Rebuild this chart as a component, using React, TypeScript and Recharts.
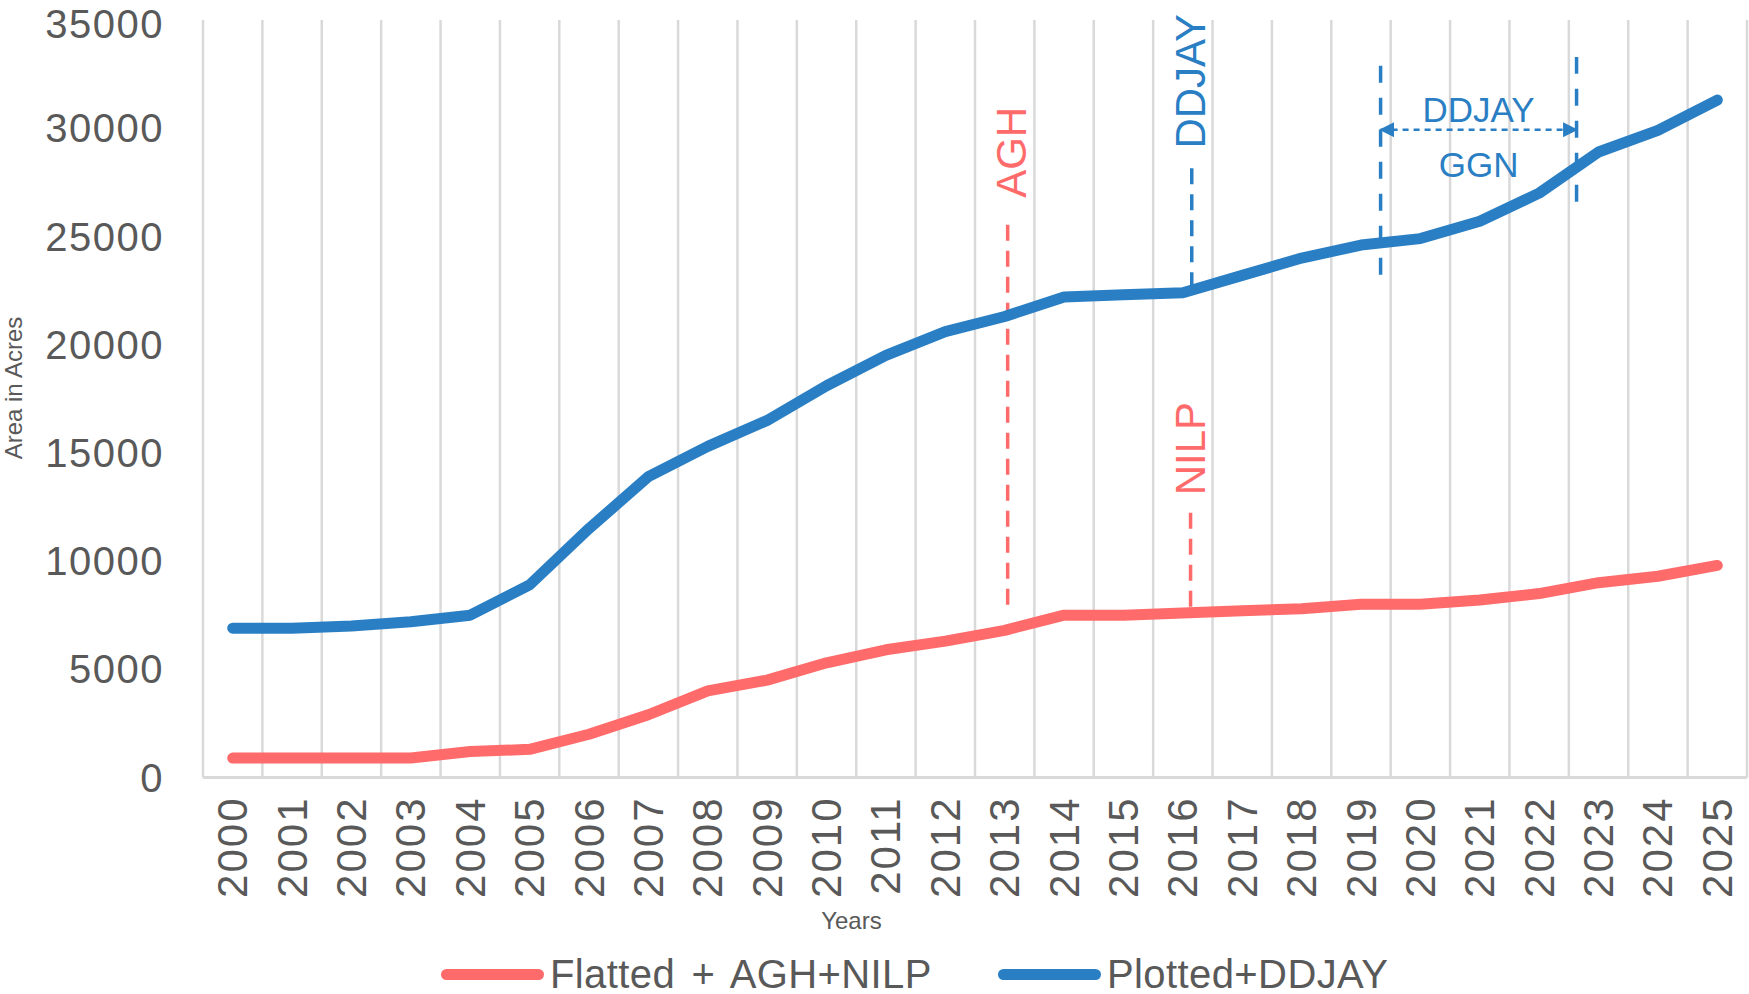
import React from 'react';
import { LineChart, Line, XAxis, YAxis, ReferenceLine, ReferenceDot, Legend } from 'recharts';

const years = [
  2000, 2001, 2002, 2003, 2004, 2005, 2006, 2007, 2008, 2009, 2010, 2011, 2012,
  2013, 2014, 2015, 2016, 2017, 2018, 2019, 2020, 2021, 2022, 2023, 2024, 2025,
];
const flatted = [
  900, 900, 900, 900, 1200, 1300, 2000, 2900, 4000, 4500, 5300, 5900, 6300,
  6800, 7500, 7500, 7600, 7700, 7800, 8000, 8000, 8200, 8500, 9000, 9300, 9800,
];
const plotted = [
  6900, 6900, 7000, 7200, 7500, 8900, 11500, 13900, 15300, 16500, 18100, 19500, 20600,
  21300, 22200, 22300, 22400, 23200, 24000, 24600, 24900, 25700, 27000, 28900, 29900, 31300,
];
const seriesNames = ['Flatted + AGH+NILP', 'Plotted+DDJAY'];
const yTicks = [0, 5000, 10000, 15000, 20000, 25000, 30000, 35000];

const RED = '#FF6B6B';
const BLUE = '#2A7FC4';
const GRID = '#D9D9D9';
const TEXT = '#595959';
const FONT = '"Century Gothic", "Liberation Sans", Arial, sans-serif';

const data = years.map((year, i) => ({ year, flatted: flatted[i], plotted: plotted[i] }));
const bandEdges = [...years.map((y) => y - 0.5), years[years.length - 1] + 0.5];

const YearTick = (props: any) => {
  const { x, y, payload } = props;
  return (
    <text
      transform={`translate(${x},${y + 19}) rotate(-90)`}
      textAnchor="end"
      dominantBaseline="central"
      fill={TEXT}
      fontSize={42}
      letterSpacing={2}
      fontFamily={FONT}
    >
      {payload.value}
    </text>
  );
};

const annotText = (text: string, color: string, size: number, vertical: boolean) => (p: any) => {
  const { x, y } = p.viewBox;
  return (
    <text
      x={x}
      y={y}
      textAnchor="middle"
      dominantBaseline="central"
      fill={color}
      fontSize={size}
      fontFamily={FONT}
      transform={vertical ? `rotate(-90 ${x} ${y})` : undefined}
    >
      {text}
    </text>
  );
};

const ArrowLine = (props: any) => {
  const { x1, y1, x2, y2 } = props;
  return (
    <g>
      <defs>
        <marker id="ddjayArrow" viewBox="0 0 10 10" refX="9" refY="5" markerWidth="6" markerHeight="6" orient="auto-start-reverse">
          <path d="M0,0 L10,5 L0,10 z" fill={BLUE} />
        </marker>
      </defs>
      <line
        x1={x1}
        y1={y1}
        x2={x2}
        y2={y2}
        stroke={BLUE}
        strokeWidth={2.5}
        strokeDasharray="6 5"
        markerStart="url(#ddjayArrow)"
        markerEnd="url(#ddjayArrow)"
      />
    </g>
  );
};

const renderLegend = () => (
  <div
    style={{
      display: 'flex',
      alignItems: 'center',
      height: 48,
      paddingTop: 8,
      boxSizing: 'border-box',
      paddingLeft: 441,
      fontFamily: FONT,
      fontSize: 40,
      color: TEXT,
    }}
  >
    {seriesNames.map((name, i) => (
      <div
        key={name}
        style={{ display: 'flex', alignItems: 'center', flex: 'none', width: i === 0 ? 557 : 'auto' }}
      >
        <span
          style={{
            display: 'inline-block',
            width: 103,
            height: 11,
            borderRadius: 6,
            background: i === 0 ? RED : BLUE,
            marginRight: 6,
          }}
        />
        <span style={{ letterSpacing: 0.4, wordSpacing: 5 }}>{name}</span>
      </div>
    ))}
  </div>
);

export default function App() {
  return (
    <div style={{ position: 'absolute', left: 0, top: 0, background: '#fff' }}>
      <LineChart width={1749} height={994} data={data} margin={{ top: 20, right: 2, bottom: 0, left: 0 }}>
        {bandEdges.map((e) => (
          <ReferenceLine key={e} x={e} stroke={GRID} strokeWidth={2.5} />
        ))}
        <XAxis
          dataKey="year"
          type="number"
          domain={[1999.5, 2025.5]}
          ticks={years}
          interval={0}
          height={168.5}
          tickLine={false}
          tickSize={0}
          tickMargin={0}
          axisLine={{ stroke: GRID, strokeWidth: 3 }}
          tick={<YearTick />}
          label={{
            content: (p: any) => (
              <text
                x={p.viewBox.x + p.viewBox.width * 0.42}
                y={920}
                textAnchor="middle"
                dominantBaseline="central"
                fill={TEXT}
                fontSize={24}
                fontFamily={FONT}
              >
                Years
              </text>
            ),
          }}
        />
        <YAxis
          domain={[0, 35000]}
          ticks={yTicks}
          width={203}
          axisLine={false}
          tickLine={false}
          tickSize={0}
          tickMargin={39}
          tick={{ fill: TEXT, fontSize: 40, fontFamily: FONT, letterSpacing: 1.5 }}
          label={{
            content: () => {
              const cx = 13;
              const cy = 388;
              return (
                <text
                  x={cx}
                  y={cy}
                  textAnchor="middle"
                  dominantBaseline="central"
                  fill={TEXT}
                  fontSize={24}
                  fontFamily={FONT}
                  transform={`rotate(-90 ${cx} ${cy})`}
                >
                  Area in Acres
                </text>
              );
            },
          }}
        />

        <ReferenceLine segment={[{ x: 2013.05, y: 7980 }, { x: 2013.05, y: 25700 }]} stroke={RED} strokeWidth={3.5} strokeDasharray="16 10" />
        <ReferenceLine segment={[{ x: 2016.13, y: 7885 }, { x: 2016.13, y: 12600 }]} stroke={RED} strokeWidth={3.5} strokeDasharray="16 10" />
        <ReferenceLine segment={[{ x: 2016.15, y: 22600 }, { x: 2016.15, y: 28238 }]} stroke={BLUE} strokeWidth={3.5} strokeDasharray="16 10" />
        <ReferenceLine segment={[{ x: 2019.33, y: 23230 }, { x: 2019.33, y: 33200 }]} stroke={BLUE} strokeWidth={3.5} strokeDasharray="17 15" />
        <ReferenceLine segment={[{ x: 2022.63, y: 26600 }, { x: 2022.63, y: 33290 }]} stroke={BLUE} strokeWidth={3.5} strokeDasharray="17 15" />
        <ReferenceLine segment={[{ x: 2019.33, y: 29930 }, { x: 2022.63, y: 29930 }]} shape={<ArrowLine />} />

        <Line type="linear" dataKey="flatted" name={seriesNames[0]} stroke={RED} strokeWidth={11} strokeLinecap="round" strokeLinejoin="round" dot={false} activeDot={false} isAnimationActive={false} />
        <Line type="linear" dataKey="plotted" name={seriesNames[1]} stroke={BLUE} strokeWidth={11} strokeLinecap="round" strokeLinejoin="round" dot={false} activeDot={false} isAnimationActive={false} />

        <ReferenceDot x={2013.12} y={28885} r={0} fill="none" stroke="none" label={{ content: annotText('AGH', RED, 42, true) }} />
        <ReferenceDot x={2016.13} y={32170} r={0} fill="none" stroke="none" label={{ content: annotText('DDJAY', BLUE, 42, true) }} />
        <ReferenceDot x={2016.13} y={15194} r={0} fill="none" stroke="none" label={{ content: annotText('NILP', RED, 42, true) }} />
        <ReferenceDot x={2020.98} y={30874} r={0} fill="none" stroke="none" label={{ content: annotText('DDJAY', BLUE, 35, false) }} />
        <ReferenceDot x={2020.98} y={28330} r={0} fill="none" stroke="none" label={{ content: annotText('GGN', BLUE, 35, false) }} />

        <Legend verticalAlign="bottom" content={renderLegend} wrapperStyle={{ left: 0, width: 1749 }} />
      </LineChart>
    </div>
  );
}
